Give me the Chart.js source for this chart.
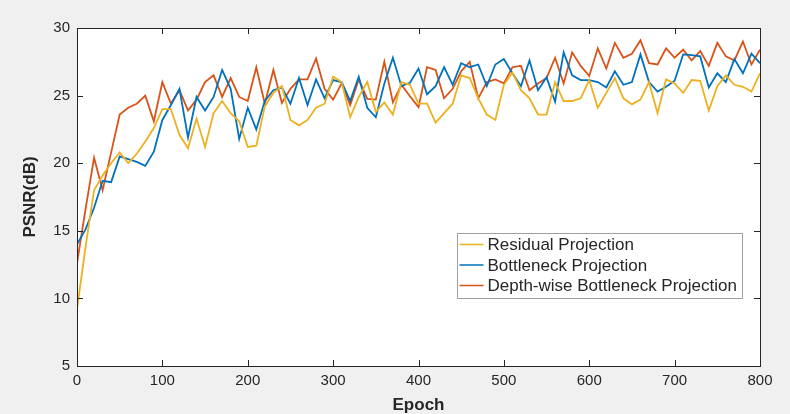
<!DOCTYPE html>
<html>
<head>
<meta charset="utf-8">
<script src="https://cdn.jsdelivr.net/npm/chart.js@4.4.1/dist/chart.umd.min.js"></script>
<style>
  html, body { margin: 0; padding: 0; background: #f0f0f0; }
  #wrap { width: 790px; height: 414px; position: relative; }
</style>
</head>
<body>
<div id="wrap"><canvas id="psnrChart"></canvas></div>
<script>
// Data (PSNR every 10 epochs)
const epochs = [0, 10, 20, 30, 40, 50, 60, 70, 80, 90, 100, 110, 120, 130, 140, 150, 160, 170, 180, 190,
  200, 210, 220, 230, 240, 250, 260, 270, 280, 290, 300, 310, 320, 330, 340, 350, 360, 370, 380, 390,
  400, 410, 420, 430, 440, 450, 460, 470, 480, 490, 500, 510, 520, 530, 540, 550, 560, 570, 580, 590,
  600, 610, 620, 630, 640, 650, 660, 670, 680, 690, 700, 710, 720, 730, 740, 750, 760, 770, 780, 790, 800];

const residual = [9.2, 13.8, 18.0, 19.1, 20.0, 20.8, 20.0, 20.7, 21.6, 22.6, 24.0, 24.0, 22.1, 21.1, 23.3, 21.2, 23.7, 24.6, 23.7, 23.1,
  21.2, 21.3, 24.2, 25.2, 25.7, 23.2, 22.8, 23.2, 24.1, 24.4, 26.4, 26.0, 23.4, 24.9, 26.0, 23.8, 24.5, 23.6, 26.0, 25.8,
  24.4, 24.4, 23.0, 23.7, 24.4, 26.5, 26.3, 24.8, 23.6, 23.2, 25.8, 26.7, 25.4, 24.8, 23.6, 23.6, 26.0, 24.6, 24.6, 24.8,
  26.15, 24.1, 25.2, 26.3, 24.8, 24.35, 24.7, 26.0, 23.7, 26.2, 25.9, 25.2, 26.15, 26.1, 23.9, 25.7, 26.5, 25.8, 25.65, 25.3, 26.65];

const bottleneck = [14.0, 15.1, 16.7, 18.7, 18.6, 20.5, 20.3, 20.1, 19.8, 20.85, 23.2, 24.3, 25.5, 21.9, 24.9, 23.9, 24.9, 26.9, 25.5, 21.8,
  24.1, 22.5, 24.6, 25.4, 25.6, 24.4, 26.3, 24.3, 26.2, 24.8, 26.15, 26.0, 24.6, 26.4, 24.1, 23.4, 25.9, 27.8, 25.7, 25.95,
  27.0, 25.1, 25.7, 27.1, 25.8, 27.4, 27.1, 27.3, 25.7, 27.3, 27.7, 26.65, 25.7, 27.6, 25.4, 26.35, 24.55, 28.2, 26.5, 26.15,
  26.15, 26.0, 25.6, 26.8, 25.8, 26.0, 28.05, 26.0, 25.3, 25.65, 26.1, 28.05, 28.0, 27.9, 25.6, 26.65, 26.0, 27.7, 26.65, 28.1, 27.4];

const depthwise = [12.6, 16.6, 20.4, 18.0, 20.8, 23.6, 24.1, 24.4, 25.0, 23.1, 26.0, 24.4, 25.4, 23.9, 24.7, 26.0, 26.5, 24.9, 26.3, 24.9,
  24.6, 27.1, 24.4, 26.9, 24.45, 25.5, 26.2, 26.2, 27.75, 25.5, 24.7, 25.9, 24.3, 26.2, 24.75, 24.7, 27.5, 24.5, 25.8, 24.95,
  24.15, 27.1, 26.9, 24.8, 25.5, 26.8, 27.5, 24.8, 26.0, 26.2, 25.9, 27.1, 27.2, 25.4, 25.9, 26.3, 27.8, 25.9, 28.2, 27.2,
  26.45, 28.5, 27.0, 28.9, 27.8, 28.1, 29.1, 27.4, 27.3, 28.5, 27.8, 28.4, 27.6, 28.3, 27.2, 28.9, 27.9, 27.6, 29.0, 27.3, 28.4];

const seriesNames = ['Residual Projection', 'Bottleneck Projection', 'Depth-wise Bottleneck Projection'];
const seriesColors = ['#EDB120', '#0072BD', '#D95319'];
const xTicks = [0, 100, 200, 300, 400, 500, 600, 700, 800];
const yTicks = [5, 10, 15, 20, 25, 30];

const FONT = "'Liberation Sans', Arial, sans-serif";
const AXIS_COLOR = '#262626';

function toPoints(vals) {
  return epochs.map((e, i) => ({ x: e, y: vals[i] }));
}

// white plot area, box with inward ticks, legend inside the axes
const matlabAxes = {
  id: 'matlabAxes',
  beforeDraw(chart) {
    const { ctx, chartArea: a } = chart;
    ctx.save();
    ctx.fillStyle = '#ffffff';
    ctx.fillRect(a.left, a.top, a.right - a.left, a.bottom - a.top);
    ctx.restore();
  },
  afterDatasetsDraw(chart) {
    const { ctx, chartArea: a, scales } = chart;
    const tl = 6;
    ctx.save();
    ctx.strokeStyle = AXIS_COLOR;
    ctx.lineWidth = 1;
    ctx.beginPath();
    xTicks.forEach(v => {
      const px = Math.round(scales.x.getPixelForValue(v)) + 0.5;
      ctx.moveTo(px, a.bottom); ctx.lineTo(px, a.bottom - tl);
      ctx.moveTo(px, a.top); ctx.lineTo(px, a.top + tl);
    });
    yTicks.forEach(v => {
      const py = Math.round(scales.y.getPixelForValue(v)) + 0.5;
      ctx.moveTo(a.left, py); ctx.lineTo(a.left + tl, py);
      ctx.moveTo(a.right, py); ctx.lineTo(a.right - tl, py);
    });
    ctx.stroke();
    ctx.strokeRect(Math.round(a.left) + 0.5, Math.round(a.top) + 0.5,
      Math.round(a.right - a.left), Math.round(a.bottom - a.top));

    // legend
    const bw = 285, bh = 65;
    const bx = Math.round(a.right) - 18 - bw + 0.5;
    const by = Math.round(a.bottom) - 68 - bh + 0.5;
    ctx.fillStyle = '#ffffff';
    ctx.fillRect(bx, by, bw, bh);
    ctx.strokeStyle = '#a0a0a0';
    ctx.strokeRect(bx, by, bw, bh);
    ctx.font = '17px ' + FONT;
    ctx.textBaseline = 'middle';
    ctx.textAlign = 'left';
    chart.data.datasets.forEach((ds, i) => {
      const cy = by + 11 + i * 20.5;
      ctx.strokeStyle = ds.borderColor;
      ctx.lineWidth = 1.5;
      ctx.beginPath();
      ctx.moveTo(bx + 2, cy); ctx.lineTo(bx + 26, cy);
      ctx.stroke();
      ctx.fillStyle = AXIS_COLOR;
      ctx.fillText(ds.label, bx + 30, cy + 1);
    });
    ctx.restore();
  }
};

document.addEventListener('DOMContentLoaded', function () {
  const ctx = document.getElementById('psnrChart').getContext('2d');
  new Chart(ctx, {
    type: 'line',
    data: {
      datasets: [residual, bottleneck, depthwise].map((vals, i) => ({
        label: seriesNames[i],
        data: toPoints(vals),
        borderColor: seriesColors[i],
        borderWidth: 1.8,
        pointRadius: 0,
        tension: 0,
        fill: false
      }))
    },
    options: {
      responsive: true,
      maintainAspectRatio: false,
      animation: false,
      layout: { padding: { top: 28, right: 30, left: 0, bottom: 0 } },
      plugins: {
        legend: { display: false },
        tooltip: { enabled: false }
      },
      scales: {
        x: {
          type: 'linear',
          min: 0,
          max: 800,
          afterBuildTicks: s => { s.ticks = xTicks.map(v => ({ value: v })); },
          afterFit: s => { s.height = 48; },
          grid: { display: false, drawTicks: false },
          border: { display: false },
          ticks: { color: AXIS_COLOR, padding: 6, font: { family: FONT, size: 15 }, maxRotation: 0 },
          title: {
            display: true,
            text: 'Epoch',
            color: AXIS_COLOR,
            font: { family: FONT, size: 17, weight: 'bold', lineHeight: 1 },
            padding: { top: 0, bottom: 0 }
          }
        },
        y: {
          min: 5,
          max: 30,
          afterBuildTicks: s => { s.ticks = yTicks.map(v => ({ value: v })); },
          afterFit: s => { s.width = 77; },
          grid: { display: false, drawTicks: false },
          border: { display: false },
          ticks: { color: AXIS_COLOR, padding: 7, font: { family: FONT, size: 15 } },
          title: {
            display: true,
            text: 'PSNR(dB)',
            color: AXIS_COLOR,
            font: { family: FONT, size: 17, weight: 'bold' },
            padding: { top: 20, bottom: 0 }
          }
        }
      }
    },
    plugins: [matlabAxes]
  });
});
</script>
</body>
</html>
